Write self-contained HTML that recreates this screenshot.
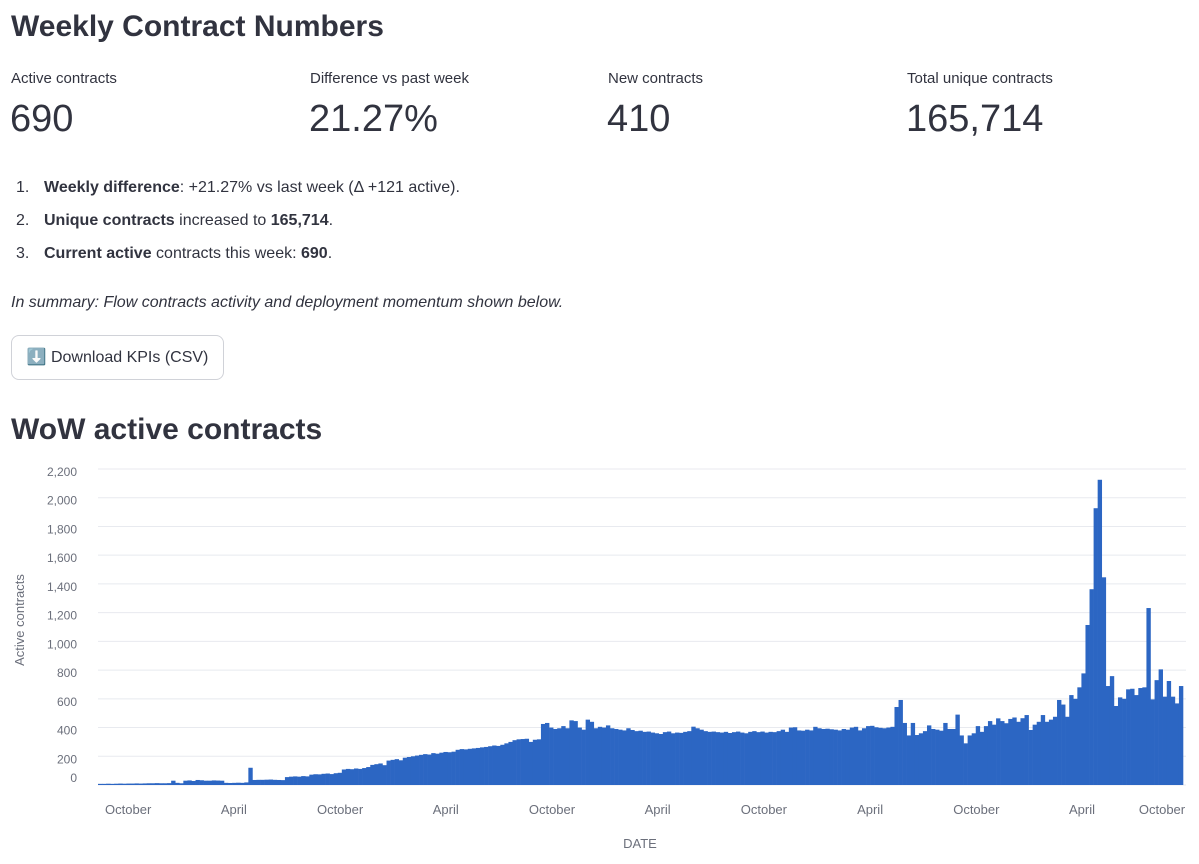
<!DOCTYPE html>
<html><head><meta charset="utf-8">
<style>
body{margin:0;background:#fff;font-family:"Liberation Sans",sans-serif;color:#31333f;width:1199px;height:864px;overflow:hidden;position:relative}
.abs{position:absolute;white-space:nowrap}
h1{position:absolute;left:11px;top:10px;margin:0;font-size:30px;font-weight:700}
.ml{font-size:15px;top:70px}
.mv{font-size:38px;top:98px}
ol{position:absolute;left:0;top:179px;margin:0;padding:0;list-style:none;font-size:16px}
ol li{height:33px;position:relative;padding-left:44px}
ol li .n{position:absolute;left:16px}
.btn{position:absolute;left:11px;top:335px;width:213px;height:45px;border:1px solid #d0d2d8;border-radius:8px;font-size:16px;box-sizing:border-box;line-height:43px;text-align:center}
</style></head><body>
<h1>Weekly Contract Numbers</h1>
<div class="abs ml" style="left:11px">Active contracts</div>
<div class="abs mv" style="left:10px">690</div>
<div class="abs ml" style="left:310px">Difference vs past week</div>
<div class="abs mv" style="left:309px">21.27%</div>
<div class="abs ml" style="left:608px">New contracts</div>
<div class="abs mv" style="left:607px">410</div>
<div class="abs ml" style="left:907px">Total unique contracts</div>
<div class="abs mv" style="left:906px">165,714</div>
<ol>
<li><span class="n">1.</span><b>Weekly difference</b>: +21.27% vs last week (Δ +121 active).</li>
<li><span class="n">2.</span><b>Unique contracts</b> increased to <b>165,714</b>.</li>
<li><span class="n">3.</span><b>Current active</b> contracts this week: <b>690</b>.</li>
</ol>
<div class="abs" style="left:11px;top:294px;font-size:16px;font-style:italic">In summary: Flow contracts activity and deployment momentum shown below.</div>
<div class="btn">⬇️ Download KPIs (CSV)</div>
<div class="abs" style="left:11px;top:413px;font-size:30px;font-weight:700">WoW active contracts</div>
<svg id="chart" class="abs" style="left:0;top:0" width="1199" height="864"></svg>
<script>
const values=[8,8,9,8,9,10,9,10,10,11,10,11,12,12,13,12,12,13,
30,15,12,
30,32,28,35,33,30,30,32,31,30,
15,14,15,16,15,18,
120,
35,36,36,37,38,36,35,34,
55,58,60,58,62,60,
72,75,74,78,80,76,82,85,
108,112,110,115,112,118,125,
140,145,150,138,
170,175,180,172,
190,195,200,205,210,215,212,
222,218,225,230,228,232,
245,250,248,252,255,258,262,
265,270,275,272,280,290,300,312,318,
320,322,300,315,318,
425,432,400,
390,395,410,395,450,
445,400,385,
455,440,395,
405,400,415,395,390,385,380,395,
383,375,378,370,372,365,360,355,368,372,360,365,363,370,375,
406,395,385,
375,370,372,368,365,370,362,368,372,365,360,370,375,368,372,365,370,368,375,
385,370,400,402,380,
378,385,380,405,
395,390,392,388,385,380,390,385,
400,405,380,395,
410,412,402,398,395,400,405,
543,592,
432,345,432,348,360,375,415,390,385,378,432,390,390,490,345,290,345,360,410,370,410,445,420,464,445,430,460,470,440,465,
487,383,420,440,487,440,455,475,592,560,475,626,600,680,777,1114,1363,1927,2125,1446,689,758,550,610,600,666,670,626,675,680,1232,596,730,805,615,724,615,568,689];
const yTicks=[0,200,400,600,800,1000,1200,1400,1600,1800,2000,2200];
const xTickLabels=["October","April","October","April","October","April","October","April","October","April","October"];
const xTickDates=["2020-10-01","2021-04-01","2021-10-01","2022-04-01","2022-10-01","2023-04-01","2023-10-01","2024-04-01","2024-10-01","2025-04-01","2025-10-01"];
const startDate="2020-08-10";
const NS="http://www.w3.org/2000/svg";
const svg=document.getElementById('chart');
const L=98,R=1183,Y0=785,Y1=469,N=values.length,bw=(R-L)/N;
const y=v=>Y0-(v/2200)*(Y0-Y1);
const xi=i=>L+i*bw;
const xd=d=>L+((new Date(d)-new Date(startDate))/(7*864e5))*bw;
function mk(t,a){const e=document.createElementNS(NS,t);for(const k in a)e.setAttribute(k,a[k]);svg.appendChild(e);return e;}
yTicks.forEach(v=>{
 const g=mk('line',{x1:L,x2:R+3,y1:y(v),y2:y(v),stroke:'#e8eaef','stroke-width':1});
 
 
 const ty=v===0?y(v)-3:y(v)+7;
 const t=mk('text',{x:77,y:ty,'text-anchor':'end','font-size':12,fill:'#6b6f7b','font-family':'Liberation Sans'});
 t.textContent=v.toLocaleString('en-US');
 
 
});
values.forEach((v,i)=>{
 const r=mk('rect',{x:xi(i),y:y(v),width:bw+0.3,height:Y0-y(v),fill:'#2c66c3'});
 
 
});
xTickLabels.forEach((s,i)=>{
 let cx=xd(xTickDates[i]);
 if(cx>1162)cx=1162;
 const t=mk('text',{x:cx,y:814,'text-anchor':'middle','font-size':13,fill:'#6b6f7b','font-family':'Liberation Sans'});
 t.textContent=s;
 
 
});
const xt=mk('text',{x:640,y:848,'text-anchor':'middle','font-size':13,fill:'#6b6f7b','font-family':'Liberation Sans'});
xt.textContent='DATE';


const yt=mk('text',{x:0,y:0,transform:'translate(24,620) rotate(-90)','text-anchor':'middle','font-size':13,fill:'#6b6f7b','font-family':'Liberation Sans'});
yt.textContent='Active contracts';


</script>
</body></html>
